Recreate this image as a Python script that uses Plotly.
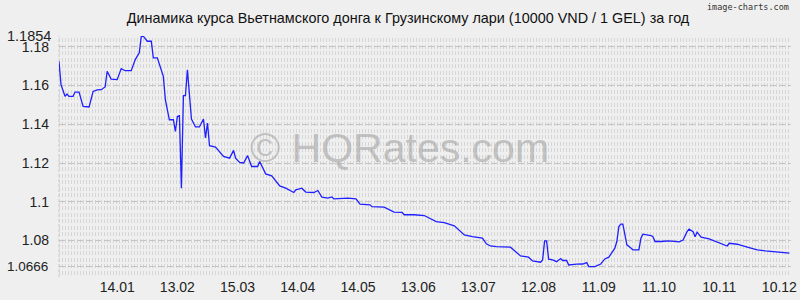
import plotly.graph_objects as go

title_text = "Динамика курса Вьетнамского донга к Грузинскому лари (10000 VND / 1 GEL) за год"

dates = [
    "2024-12-16", "2024-12-17", "2024-12-19", "2024-12-20", "2024-12-21", "2024-12-23", "2024-12-24",
    "2024-12-26", "2024-12-28", "2024-12-31", "2025-01-02", "2025-01-04", "2025-01-06", "2025-01-08",
    "2025-01-09", "2025-01-11", "2025-01-14", "2025-01-16", "2025-01-18", "2025-01-21", "2025-01-23",
    "2025-01-25", "2025-01-26", "2025-01-27", "2025-01-29", "2025-01-31", "2025-02-01", "2025-02-03",
    "2025-02-06", "2025-02-07", "2025-02-09", "2025-02-11", "2025-02-12", "2025-02-13", "2025-02-14",
    "2025-02-15", "2025-02-16", "2025-02-17", "2025-02-18", "2025-02-20", "2025-02-22", "2025-02-24",
    "2025-02-26", "2025-02-27", "2025-02-28", "2025-03-01", "2025-03-04", "2025-03-08", "2025-03-11",
    "2025-03-13", "2025-03-14", "2025-03-16", "2025-03-18", "2025-03-20", "2025-03-22", "2025-03-25",
    "2025-03-26", "2025-03-29", "2025-04-01", "2025-04-05", "2025-04-08", "2025-04-12", "2025-04-13",
    "2025-04-16", "2025-04-18", "2025-04-22", "2025-04-24", "2025-04-26", "2025-04-29", "2025-05-01",
    "2025-05-02", "2025-05-09", "2025-05-13", "2025-05-15", "2025-05-20", "2025-05-21", "2025-05-27",
    "2025-06-01", "2025-06-05", "2025-06-06", "2025-06-11", "2025-06-16", "2025-06-22", "2025-06-26",
    "2025-07-01", "2025-07-06", "2025-07-10", "2025-07-15", "2025-07-17", "2025-07-19", "2025-07-22",
    "2025-07-29", "2025-08-03", "2025-08-07", "2025-08-09", "2025-08-13", "2025-08-14", "2025-08-15",
    "2025-08-16", "2025-08-17", "2025-08-19", "2025-08-21", "2025-08-23", "2025-08-24", "2025-08-26",
    "2025-08-27", "2025-08-31", "2025-09-03", "2025-09-05", "2025-09-06", "2025-09-09", "2025-09-12",
    "2025-09-14", "2025-09-16", "2025-09-19", "2025-09-20", "2025-09-21", "2025-09-22", "2025-09-23",
    "2025-09-24", "2025-09-25", "2025-09-27", "2025-09-28", "2025-10-01", "2025-10-02", "2025-10-03",
    "2025-10-07", "2025-10-08", "2025-10-09", "2025-10-12", "2025-10-16", "2025-10-21", "2025-10-23",
    "2025-10-25", "2025-10-26", "2025-10-28", "2025-10-29", "2025-10-30", "2025-11-01", "2025-11-05",
    "2025-11-08", "2025-11-11", "2025-11-14", "2025-11-15", "2025-11-19", "2025-11-24", "2025-11-29",
    "2025-12-03", "2025-12-07", "2025-12-10", "2025-12-15",
]

rates = [
    1.1724, 1.1604, 1.1544, 1.1556, 1.1544, 1.1544, 1.1566,
    1.1566, 1.1492, 1.1489, 1.1569, 1.1577, 1.1578, 1.1592,
    1.1673, 1.1633, 1.1630, 1.1687, 1.1676, 1.1676, 1.1733,
    1.1768, 1.1852, 1.1854, 1.1828, 1.1828, 1.1742, 1.1742,
    1.1647, 1.1527, 1.1423, 1.1423, 1.1363, 1.1440, 1.1444,
    1.1070, 1.1547, 1.1547, 1.1681, 1.1427, 1.1386, 1.1386,
    1.1427, 1.1329, 1.1406, 1.1289, 1.1282, 1.1234, 1.1225,
    1.1265, 1.1225, 1.1203, 1.1200, 1.1238, 1.1182, 1.1182,
    1.1208, 1.1144, 1.1134, 1.1082, 1.1070, 1.1048, 1.1062,
    1.1070, 1.1050, 1.1048, 1.1058, 1.1024, 1.1019, 1.1025,
    1.1015, 1.1019, 1.1015, 1.0988, 1.0984, 1.0975, 1.0972,
    1.0947, 1.0945, 1.0933, 1.0933, 1.0929, 1.0898, 1.0893,
    1.0876, 1.0829, 1.0820, 1.0812, 1.0783, 1.0772, 1.0769,
    1.0766, 1.0721, 1.0714, 1.0695, 1.0688, 1.0700, 1.0798,
    1.0798, 1.0704, 1.0700, 1.0691, 1.0707, 1.0697, 1.0697,
    1.0674, 1.0678, 1.0679, 1.0686, 1.0666, 1.0666, 1.0679,
    1.0705, 1.0714, 1.0761, 1.0795, 1.0872, 1.0885, 1.0885,
    1.0829, 1.0778, 1.0761, 1.0752, 1.0752, 1.0812, 1.0833,
    1.0826, 1.0820, 1.0795, 1.0795, 1.0798, 1.0793, 1.0803,
    1.0846, 1.0859, 1.0846, 1.0820, 1.0843, 1.0817, 1.0809,
    1.0798, 1.0783, 1.0772, 1.0786, 1.0781, 1.0766, 1.0752,
    1.0747, 1.0743, 1.0738, 1.0735,
]

x_tick_dates = ["2025-01-14", "2025-02-13", "2025-03-15", "2025-04-14", "2025-05-14", "2025-06-13",
                "2025-07-13", "2025-08-12", "2025-09-11", "2025-10-11", "2025-11-10", "2025-12-10"]
x_tick_labels = ["14.01", "13.02", "15.03", "14.04", "14.05", "13.06",
                 "13.07", "12.08", "11.09", "11.10", "10.11", "10.12"]

y_ticks = [1.08, 1.1, 1.12, 1.14, 1.16, 1.18]
y_tick_labels = ["1.08", "1.1", "1.12", "1.14", "1.16", "1.18"]
y_min_val = 1.0666
y_max_val = 1.1854

BG = "#efefef"
FONT = "Liberation Sans, Arial, sans-serif"

fig = go.Figure()
fig.add_trace(go.Scatter(x=dates, y=rates, mode="lines",
                         line=dict(color="#1f1fff", width=1.3), hoverinfo="skip"))

fig.update_layout(
    width=800, height=300,
    margin=dict(l=59, r=3, t=36, b=23),
    paper_bgcolor=BG, plot_bgcolor=BG,
    showlegend=False,
    title=dict(text=title_text, x=0.51, xanchor="center", xref="container",
               y=0.94, yanchor="middle", yref="container",
               font=dict(family=FONT, size=14.4, color="#111")),
    xaxis=dict(
        type="date",
        range=["2024-12-16", "2025-12-15 19:00"],
        tickmode="array", tickvals=x_tick_dates, ticktext=x_tick_labels,
        showgrid=False, zeroline=False, showline=False, ticks="",
        ticklabeloverflow="allow",
        tickfont=dict(family=FONT, size=14, color="#222"),
    ),
    yaxis=dict(
        range=[1.0612, 1.1855],
        tickmode="array",
        tickvals=y_ticks + [y_min_val, y_max_val],
        ticktext=y_tick_labels + ["", ""],
        showgrid=True, gridcolor="#c4c4c4", gridwidth=1, griddash="6px,3px",
        zeroline=False, showline=False, ticks="",
        ticklabelstandoff=9,
        tickfont=dict(family=FONT, size=14, color="#222"),
        minor=dict(tickmode="linear", tick0=1.06, dtick=0.02 / 6, showgrid=True,
                   gridcolor="#d6d6d6", gridwidth=4, griddash="1px,2px", ticks=""),
    ),
)

fig.add_shape(type="line", xref="paper", yref="paper", x0=0, x1=0, y0=0, y1=1,
              line=dict(color="#c8c8c8", width=1, dash="3px,2px"), layer="below")

fig.add_annotation(text=f"{y_max_val}", xref="paper", yref="y", x=0, y=y_max_val,
                   xanchor="right", yanchor="middle", xshift=-6, showarrow=False,
                   font=dict(family=FONT, size=14.5, color="#222"))
fig.add_annotation(text=f"{y_min_val}", xref="paper", yref="y", x=0, y=y_min_val,
                   xanchor="right", yanchor="middle", xshift=-9, showarrow=False,
                   font=dict(family=FONT, size=13.5, color="#222"))

fig.add_annotation(text="© HQRates.com", xref="paper", yref="paper", x=0.4648, y=0.535,
                   xanchor="center", yanchor="middle", showarrow=False,
                   font=dict(family=FONT, size=41, color="rgba(150,150,150,0.5)"))

fig.add_annotation(text="image-charts.com", xref="paper", yref="paper", x=1.0, y=1.12,
                   xanchor="right", yanchor="middle", showarrow=False,
                   font=dict(family="DejaVu Sans Mono, monospace", size=8.5, color="#333"))

fig.write_html("out.html")
